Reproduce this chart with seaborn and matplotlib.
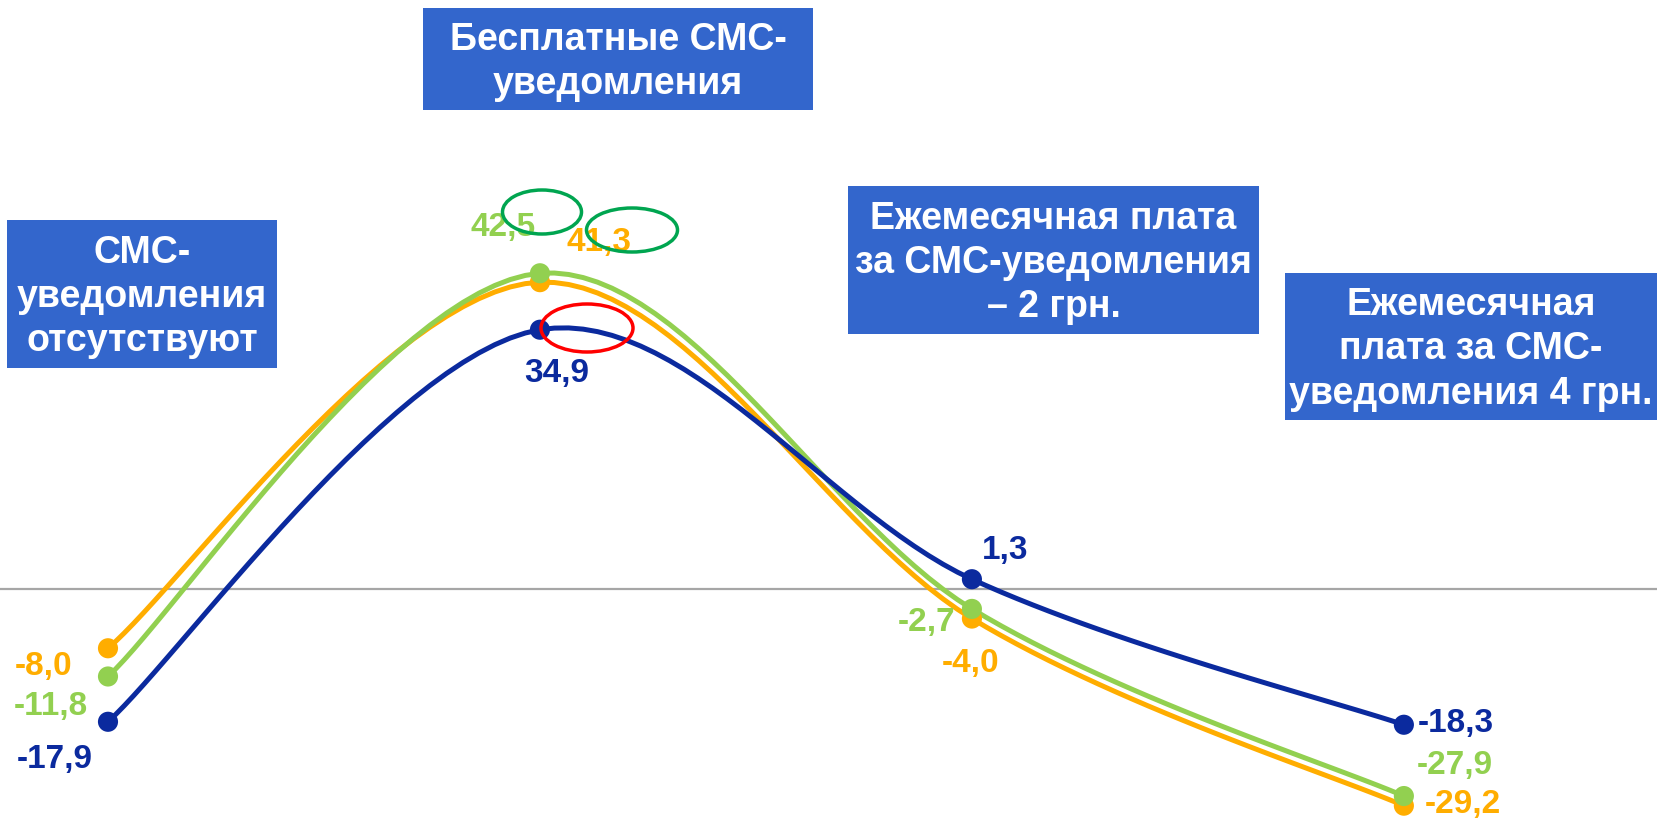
#!/usr/bin/env python3
# Smoothed line chart: attitude index by SMS-notification pricing scenario
import numpy as np
import pandas as pd
import seaborn as sns
import matplotlib.pyplot as plt
from matplotlib.patches import Ellipse, Rectangle

stages = [0, 1, 2, 3]
series_names = ['orange', 'green', 'blue']
orange_vals = [-8.0, 41.3, -4.0, -29.2]
green_vals = [-11.8, 42.5, -2.7, -27.9]
blue_vals = [-17.9, 34.9, 1.3, -18.3]
value_labels = {
    'orange': ['-8,0', '41,3', '-4,0', '-29,2'],
    'green': ['-11,8', '42,5', '-2,7', '-27,9'],
    'blue': ['-17,9', '34,9', '1,3', '-18,3'],
}
box_texts = [
    'Бесплатные СМС-\nуведомления',
    'СМС-\nуведомления\nотсутствуют',
    'Ежемесячная плата\nза СМС-уведомления\n– 2 грн.',
    'Ежемесячная\nплата за СМС-\nуведомления 4 грн.',
]

colors = {'orange': '#FFAD00', 'green': '#92D050', 'blue': '#0B2A9E'}
W, H = 1657, 825


def catmull_rom(xs, ys, n=30):
    # uniform Catmull-Rom (Excel-like smoothing)
    p = np.column_stack([xs, ys]).astype(float)
    p = np.vstack([p[0], p, p[-1]])
    out = []
    t = np.linspace(0, 1, n, endpoint=False)
    for i in range(1, len(p) - 2):
        p0, p1, p2, p3 = p[i - 1], p[i], p[i + 1], p[i + 2]
        c1 = p1 + (p2 - p0) / 6
        c2 = p2 - (p3 - p1) / 6
        seg = ((1 - t) ** 3)[:, None] * p1 + (3 * (1 - t) ** 2 * t)[:, None] * c1 \
            + (3 * (1 - t) * t ** 2)[:, None] * c2 + (t ** 3)[:, None] * p2
        out.append(seg)
    out.append(p[-2][None, :])
    return np.vstack(out)


def main():
    sns.set_style("white")
    plt.rcParams['font.family'] = ['Liberation Sans', 'DejaVu Sans']

    df = pd.DataFrame({
        'stage': stages * 3,
        'value': orange_vals + green_vals + blue_vals,
        'series': sum([[s] * 4 for s in series_names], []),
    })

    curves = []
    for s in series_names:
        sub = df[df['series'] == s]
        pts = catmull_rom(sub['stage'].values, sub['value'].values)
        curves.append(pd.DataFrame({'x': pts[:, 0], 'y': pts[:, 1], 'series': s}))
    curve_df = pd.concat(curves, ignore_index=True)

    fig = plt.figure(figsize=(W / 100, H / 100), dpi=100)
    ax = fig.add_axes([0, 0, 1, 1])
    ax.set_xlim(-0.25, 3.586)
    ax.set_ylim(-31.8, 79.3)
    ax.axhline(0, color='#A6A6A6', lw=1.6, zorder=1)

    for s in series_names:
        c = curve_df[curve_df['series'] == s]
        sns.lineplot(x=c['x'].values, y=c['y'].values, ax=ax, color=colors[s],
                     lw=3.6, sort=False, estimator=None, zorder=2)
        pts = df[df['series'] == s]
        sns.scatterplot(x=pts['stage'].values, y=pts['value'].values, ax=ax,
                        color=colors[s], s=210, edgecolor='none', zorder=3)

    # label offsets in pixels from each point
    offsets = {
        'orange': [(-64, -18), (59, 40), (-1, -45), (59, 1)],
        'green': [(-57, -30), (-37, 46), (-45, -14), (51, 31)],
        'blue': [(-53, -38), (17, -44), (33, 29), (52, 1)],
    }
    for s in series_names:
        pts = df[df['series'] == s].reset_index(drop=True)
        for i, row in pts.iterrows():
            ax.annotate(value_labels[s][i], (row['stage'], row['value']),
                        xytext=offsets[s][i], textcoords='offset pixels',
                        ha='center', va='center', fontsize=24, fontweight='bold',
                        color=colors[s], zorder=5)

    # scenario boxes (x0, y0, x1, y1 in pixels from top-left)
    boxes = [(423, 8, 813, 110), (7, 220, 277, 368), (848, 186, 1259, 334), (1285, 273, 1657, 420)]
    for (x0, y0, x1, y1), txt in zip(boxes, box_texts):
        fig.patches.append(Rectangle((x0 / W, 1 - y1 / H), (x1 - x0) / W, (y1 - y0) / H,
                                     transform=fig.transFigure, facecolor='#3366CC',
                                     edgecolor='none', zorder=4))
        fig.text((x0 + x1) / 2 / W, 1 - ((y0 + y1) / 2 + 3) / H, txt, ha='center', va='center',
                 color='white', fontsize=27, fontweight='bold', linespacing=1.3, zorder=5)

    # highlight ellipses
    rings = [((542, 212), 79, 44, '#00A550'), ((632, 230), 91, 44, '#00A550'),
             ((587, 328), 92, 48, '#FF0000')]
    for (cx, cy), w, h, col in rings:
        fig.patches.append(Ellipse((cx / W, 1 - cy / H), w / W, h / H, transform=fig.transFigure,
                                   facecolor='none', edgecolor=col, lw=2.5, zorder=6))

    ax.axis('off')
    fig.savefig('out.png', dpi=100)


if __name__ == "__main__":
    main()
